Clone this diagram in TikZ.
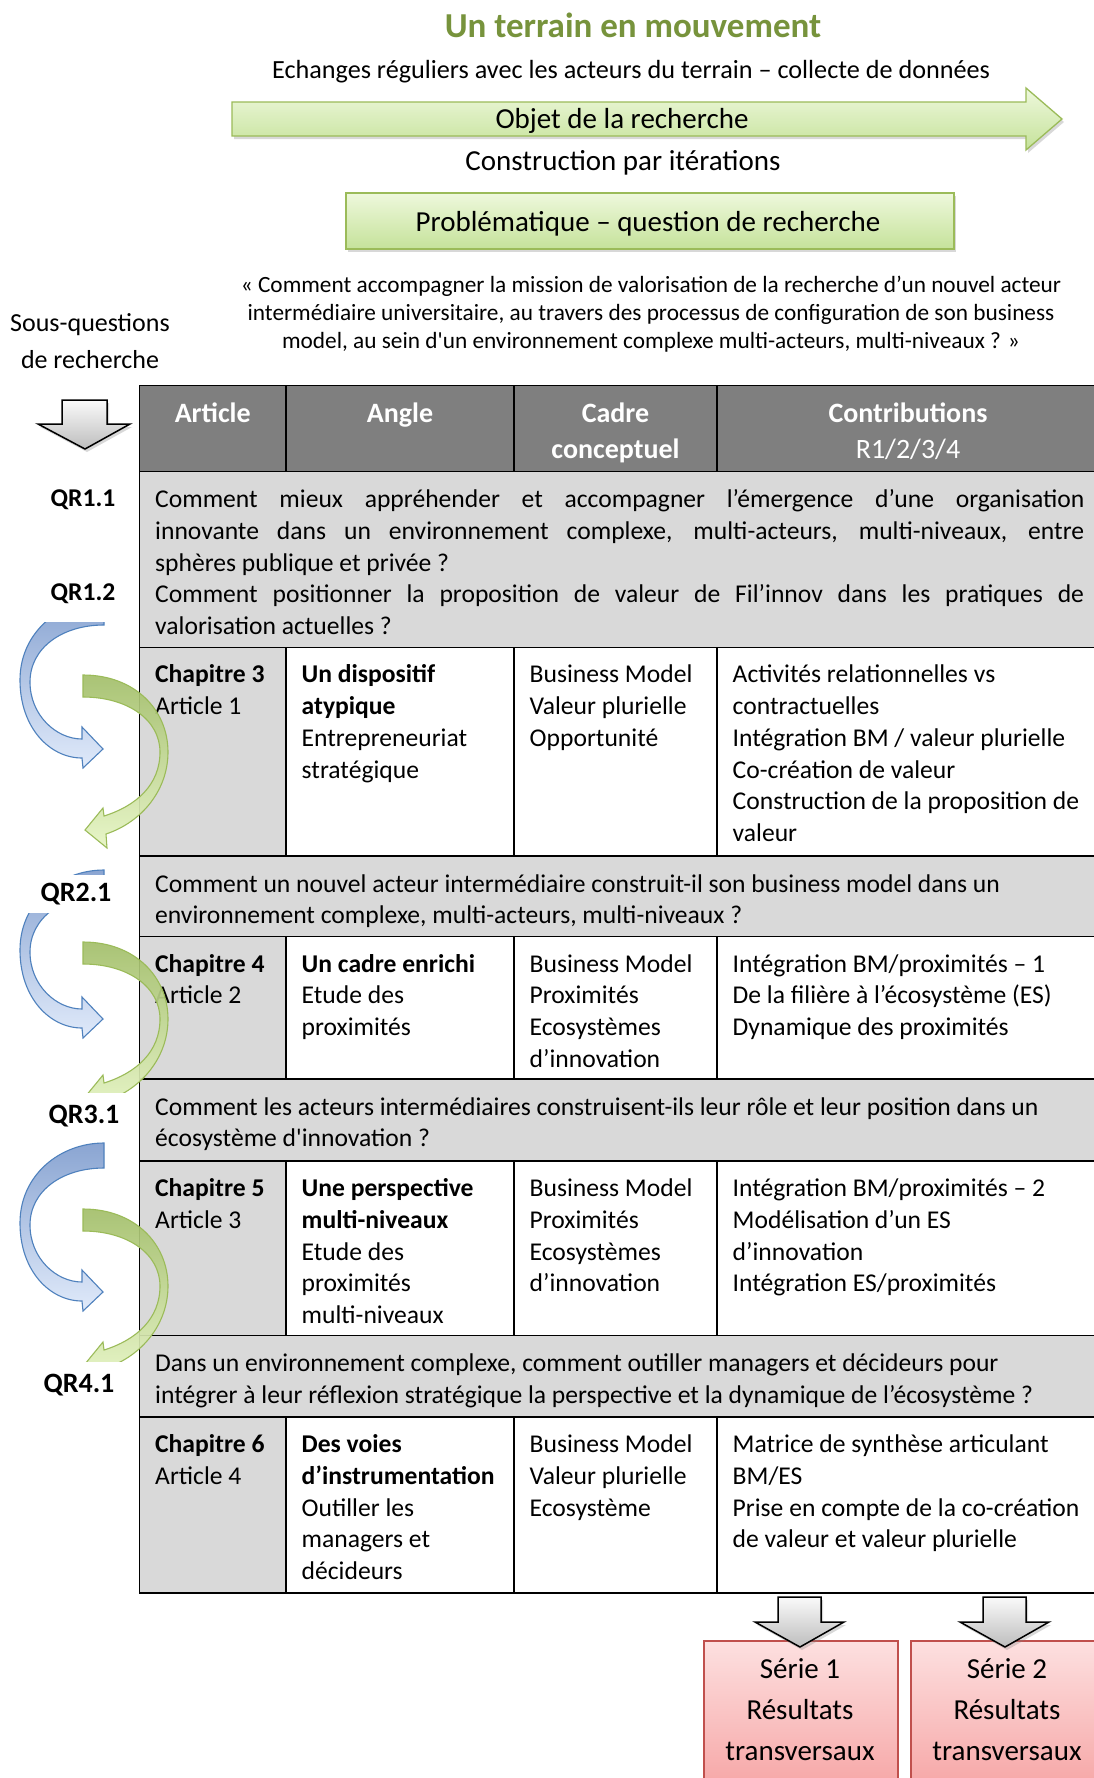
\documentclass[tikz,border=0pt]{standalone}
\usepackage{fontspec}
\setmainfont{Carlito}[Ligatures=TeXOff]
\usetikzlibrary{shadows}
\definecolor{hdrgray}{HTML}{7F7F7F}
\definecolor{lgray}{HTML}{D9D9D9}
\definecolor{titlegreen}{HTML}{77933C}
\definecolor{grnborder}{HTML}{9BBB59}
\definecolor{grntop}{HTML}{EEF8DC}
\definecolor{grnbot}{HTML}{C5E29A}
\definecolor{cgrntop}{HTML}{A3BF6A}
\definecolor{cgrnbot}{HTML}{E6F5C4}
\definecolor{bluborder}{HTML}{4F81BD}
\definecolor{blutop}{HTML}{8AA5D2}
\definecolor{blubot}{HTML}{E0EAFA}
\definecolor{redborder}{HTML}{C0504D}
\definecolor{redtop}{HTML}{FDE0E0}
\definecolor{redbot}{HTML}{F6A3A3}
\definecolor{grytop}{HTML}{FAFAFA}
\definecolor{grybot}{HTML}{BDBDBD}
\newcommand{\fsz}[2]{\fontsize{#1}{#2}\selectfont}
\tikzset{
  greenshape/.style={draw=grnborder, line width=1.3pt, top color=grntop, bottom color=grnbot,
    drop shadow={opacity=0.3, shadow xshift=2pt, shadow yshift=-3pt}},
  grayarrow/.style={draw=black, line width=1.5pt, line join=miter, top color=grytop, bottom color=grybot,
    drop shadow={opacity=0.3, shadow xshift=2pt, shadow yshift=-3pt}},
  bluecurve/.style={draw=bluborder, line width=1.1pt, top color=blutop, bottom color=blubot},
  greencurve/.style={draw=grnborder, line width=1.1pt, top color=cgrntop, bottom color=cgrnbot, fill opacity=0.92},
  redbox/.style={draw=redborder, line width=2pt, top color=redtop, bottom color=redbot},
  tblline/.style={draw=black, line width=1.3pt},
  cellt/.style={anchor=base west, inner sep=0pt, font=\fsz{25.6}{31.75}},
  hdr/.style={anchor=base, inner sep=0pt, text=white, font=\bfseries\fsz{28}{36}},
  qrlab/.style={fill=white, inner sep=0pt, minimum width=96pt, minimum height=46pt, font=\bfseries\fsz{25.6}{30}},
  qrlabb/.style={qrlab, font=\bfseries\fsz{28}{32}},
  txt/.style={inner sep=0pt},
}
\newcommand{\bluecurveat}[1]{%
\path[bluecurve, shift={(0,#1)}] (104,600) .. controls (60,600) and (20,632) .. (20,680)
  .. controls (20,728) and (50,758) .. (82,758) -- (83,768) -- (103,749) -- (82,727) -- (82,739)
  .. controls (56,739) and (30,715) .. (30,682) .. controls (30,648) and (62,625) .. (104,625) -- cycle;}
\newcommand{\greencurveat}[1]{%
\path[greencurve, shift={(0,#1)}] (83,675) .. controls (135,675) and (168,710) .. (168,752)
  .. controls (168,790) and (142,822) .. (106,834) -- (107,848) -- (85,830) -- (103,808) -- (104,816)
  .. controls (136,806) and (160,785) .. (160,752) .. controls (160,720) and (128,697) .. (83,697) -- cycle;}
\begin{document}
\begin{tikzpicture}[x=1pt,y=-1pt]
\useasboundingbox (0,0) rectangle (1093,1778);
\fill[white] (0,0) rectangle (1093,1778);

% ---------- top part ----------
\node[txt, font=\bfseries\fsz{35}{40}, text=titlegreen] (title) at (633,25) {Un terrain en mouvement};
\node[txt, font=\fsz{26.2}{30}] (echanges) at (631,72) {Echanges réguliers avec les acteurs du terrain – collecte de données};
\path[greenshape] (232,102) -- (1026,102) -- (1026,88) -- (1062,119) -- (1026,150) -- (1026,136) -- (232,136) -- cycle;
\node[txt, font=\fsz{29}{34}] (objet) at (622,121) {Objet de la recherche};
\node[txt, font=\fsz{29}{34}] (constr) at (623,163) {Construction par itérations};
\node[greenshape, minimum width=608pt, minimum height=56pt, inner sep=0pt] (prob) at (650,221) {};
\node[txt, font=\fsz{29}{34}] (probtxt) at (648,224) {Problématique – question de recherche};
\node[txt, font=\fsz{23.3}{27.8}, align=center] (quote) at (651,314) {« Comment accompagner la mission de valorisation de la recherche d’un nouvel acteur\\intermédiaire universitaire, au travers des processus de configuration de son business\\model, au sein d'un environnement complexe multi-acteurs, multi-niveaux ? »};
\node[txt, font=\fsz{26}{37}, align=center] (sousq) at (90,341) {Sous-questions\\de recherche};
\path[grayarrow] (62,400) -- (107,400) -- (107,424) -- (130,424) -- (85,449) -- (38,424) -- (62,424) -- cycle;

% ---------- table fills ----------
\fill[hdrgray] (139.5,385.5) rectangle (1099,471.7);
\fill[lgray] (139.5,471.7) rectangle (1099,647.4);
\fill[lgray] (139.5,647.4) rectangle (286,856);
\fill[lgray] (139.5,856) rectangle (1099,936.5);
\fill[lgray] (139.5,936.5) rectangle (286,1079);
\fill[lgray] (139.5,1079) rectangle (1099,1161);
\fill[lgray] (139.5,1161) rectangle (286,1335.6);
\fill[lgray] (139.5,1335.6) rectangle (1099,1417);
\fill[lgray] (139.5,1417) rectangle (286,1593);
% ---------- table lines ----------
\draw[tblline] (139.5,385.5) rectangle (1099,1593);
\foreach \yy in {471.7,647.4,856,936.5,1079,1161,1335.6,1417}
  \draw[tblline] (139.5,\yy) -- (1099,\yy);
\foreach \xx in {286,514,717}{
  \draw[tblline] (\xx,385.5) -- (\xx,471.7);
  \draw[tblline] (\xx,647.4) -- (\xx,856);
  \draw[tblline] (\xx,936.5) -- (\xx,1079);
  \draw[tblline] (\xx,1161) -- (\xx,1335.6);
  \draw[tblline] (\xx,1417) -- (\xx,1593);
}

% ---------- header ----------
\node[hdr] (hA) at (212.75,422) {Article};
\node[hdr] (hB) at (400,422) {Angle};
\node[hdr] (hC) at (615.5,422) {\parbox[t]{200pt}{\centering Cadre\\conceptuel}};
\node[hdr] (hD) at (908,422) {\parbox[t]{370pt}{\centering Contributions\\\mdseries R1/2/3/4}};

% ---------- question rows ----------
\node[cellt] (q1) at (155,507.5) {\parbox[t]{940pt}{%
\makebox[929pt][s]{Comment mieux appréhender et accompagner l’émergence d’une organisation}\\
\makebox[929pt][s]{innovante dans un environnement complexe, multi-acteurs, multi-niveaux, entre}\\
sphères publique et privée~?\\
\makebox[929pt][s]{Comment positionner la proposition de valeur de Fil’innov dans les pratiques de}\\
valorisation actuelles~?}};
\node[cellt] (q2) at (155,892) {\parbox[t]{940pt}{\raggedright Comment un nouvel acteur intermédiaire construit-il son business model dans un\\environnement complexe, multi-acteurs, multi-niveaux~?}};
\node[cellt] (q3) at (155,1115) {\parbox[t]{940pt}{\raggedright Comment les acteurs intermédiaires construisent-ils leur rôle et leur position dans un\\écosystème d'innovation~?}};
\node[cellt] (q4) at (155,1371.5) {\parbox[t]{940pt}{\raggedright Dans un environnement complexe, comment outiller managers et décideurs pour\\intégrer à leur réflexion stratégique la perspective et la dynamique de l’écosystème~?}};

% ---------- chapter 3 ----------
\node[cellt] (c3a) at (155,682.9) {\parbox[t]{128pt}{\raggedright\textbf{Chapitre 3}\\Article 1}};
\node[cellt] (c3b) at (301.5,682.9) {\parbox[t]{215pt}{\raggedright\textbf{Un dispositif}\\\textbf{atypique}\\Entrepreneuriat\\stratégique}};
\node[cellt] (c3c) at (529.5,682.9) {\parbox[t]{190pt}{\raggedright Business Model\\Valeur plurielle\\Opportunité}};
\node[cellt] (c3d) at (732.5,682.9) {\parbox[t]{360pt}{\raggedright Activités relationnelles vs\\contractuelles\\Intégration BM / valeur plurielle\\Co-création de valeur\\Construction de la proposition de\\valeur}};
% ---------- chapter 4 ----------
\node[cellt] (c4a) at (155,972) {\parbox[t]{128pt}{\raggedright\textbf{Chapitre 4}\\Article 2}};
\node[cellt] (c4b) at (301.5,972) {\parbox[t]{215pt}{\raggedright\textbf{Un cadre enrichi}\\Etude des\\proximités}};
\node[cellt] (c4c) at (529.5,972) {\parbox[t]{190pt}{\raggedright Business Model\\Proximités\\Ecosystèmes\\d’innovation}};
\node[cellt] (c4d) at (732.5,972) {\parbox[t]{360pt}{\raggedright Intégration BM/proximités – 1\\De la filière à l’écosystème (ES)\\Dynamique des proximités}};
% ---------- chapter 5 ----------
\node[cellt] (c5a) at (155,1196.5) {\parbox[t]{128pt}{\raggedright\textbf{Chapitre 5}\\Article 3}};
\node[cellt] (c5b) at (301.5,1196.5) {\parbox[t]{215pt}{\raggedright\textbf{Une perspective}\\\textbf{multi-niveaux}\\Etude des\\proximités\\multi-niveaux}};
\node[cellt] (c5c) at (529.5,1196.5) {\parbox[t]{190pt}{\raggedright Business Model\\Proximités\\Ecosystèmes\\d’innovation}};
\node[cellt] (c5d) at (732.5,1196.5) {\parbox[t]{360pt}{\raggedright Intégration BM/proximités – 2\\Modélisation d’un ES\\d’innovation\\Intégration ES/proximités}};
% ---------- chapter 6 ----------
\node[cellt] (c6a) at (155,1452.5) {\parbox[t]{128pt}{\raggedright\textbf{Chapitre 6}\\Article 4}};
\node[cellt] (c6b) at (301.5,1452.5) {\parbox[t]{215pt}{\raggedright\textbf{Des voies}\\\textbf{d’instrumentation}\\Outiller les\\managers et\\décideurs}};
\node[cellt] (c6c) at (529.5,1452.5) {\parbox[t]{190pt}{\raggedright Business Model\\Valeur plurielle\\Ecosystème}};
\node[cellt] (c6d) at (732.5,1452.5) {\parbox[t]{360pt}{\raggedright Matrice de synthèse articulant\\BM/ES\\Prise en compte de la co-création\\de valeur et valeur plurielle}};

% ---------- curved arrows ----------
\bluecurveat{0}
\bluecurveat{270}
\bluecurveat{543}
\greencurveat{0}
\greencurveat{267}
\greencurveat{534}

% ---------- labels ----------
\node[qrlab] (qr11) at (83,500) {QR1.1};
\node[qrlab, minimum height=56pt] (qr12) at (83,594) {QR1.2};
\node[qrlabb, minimum height=38pt] (qr21) at (76,894) {QR2.1};
\node[qrlabb] (qr31) at (84,1116) {QR3.1};
\node[qrlabb] (qr41) at (79,1385) {QR4.1};

% ---------- results ----------
\node[redbox, minimum width=194pt, minimum height=155pt, anchor=north west] (s1) at (703,1640) {};
\node[redbox, minimum width=196pt, minimum height=155pt, anchor=north west] (s2) at (910,1640) {};
\node[txt, font=\fsz{29}{41}, align=center] (s1t) at (800,1709.5) {Série 1\\Résultats\\transversaux};
\node[txt, font=\fsz{29}{41}, align=center] (s2t) at (1007,1709.5) {Série 2\\Résultats\\transversaux};
\path[grayarrow] (778,1597) -- (821,1597) -- (821,1622) -- (844,1622) -- (800,1647) -- (755,1622) -- (778,1622) -- cycle;
\path[grayarrow] (983,1597) -- (1026,1597) -- (1026,1622) -- (1049,1622) -- (1005,1647) -- (960,1622) -- (983,1622) -- cycle;
\end{tikzpicture}
\end{document}
